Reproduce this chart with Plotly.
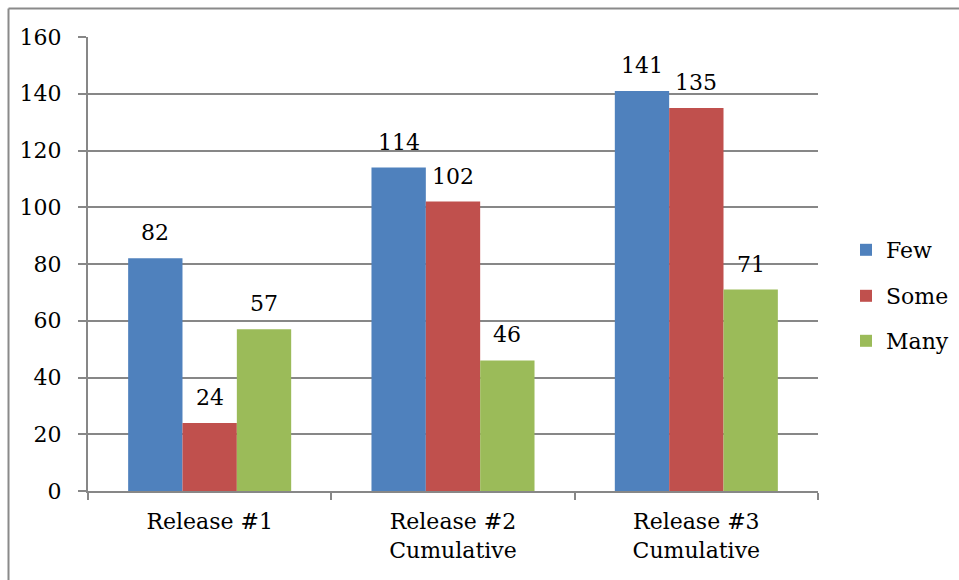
import plotly.graph_objects as go

# Category labels and counts per series
categories = ["Release #1", "Release #2<br>Cumulative", "Release #3<br>Cumulative"]
few = [82, 114, 141]
some = [24, 102, 135]
many = [57, 46, 71]

series = [("Few", few, "#4F81BD"), ("Some", some, "#C0504D"), ("Many", many, "#9BBB59")]

FONT = "DejaVu Serif"
FS = 22
GRID = "#878787"

W, H = 959, 580
ML, MR, MT, MB = 88, 141, 37, 89
PW, PH = W - ML - MR, H - MT - MB

fig = go.Figure()
legend_names = ["legend", "legend2", "legend3"]
legend_y_px = [250, 296, 341]
for i, (name, vals, color) in enumerate(series):
    fig.add_trace(go.Bar(
        x=categories, y=vals, name=name, marker=dict(color=color, line=dict(width=0)),
        legend=legend_names[i],
    ))

# value labels above each bar
n = len(series)
group_frac = 1 - 0.33
for i, (name, vals, color) in enumerate(series):
    for j, v in enumerate(vals):
        offset = (-group_frac / 2 + group_frac / n * (i + 0.5))
        fig.add_annotation(
            x=j + offset, y=v, xref="x", yref="y", text=str(v), showarrow=False,
            yanchor="bottom", yshift=11, font=dict(family=FONT, size=FS, color="black"),
        )

# Outer frame (left and top edges)
fx = (8.5 - ML) / PW
fy = (H - MB - 8.5) / PH
fig.add_shape(type="line", xref="paper", yref="paper", x0=fx, x1=fx, y0=fy, y1=-0.3,
              line=dict(color="#8A8A8A", width=2))
fig.add_shape(type="line", xref="paper", yref="paper", x0=fx, x1=1.3, y0=fy, y1=fy,
              line=dict(color="#8A8A8A", width=2))

layout_legends = {}
for i, ln in enumerate(legend_names):
    layout_legends[ln] = dict(
        x=(846 - ML) / PW, y=(H - MB - legend_y_px[i]) / PH, xanchor="left", yanchor="middle",
        font=dict(family=FONT, size=FS, color="black"), bgcolor="rgba(0,0,0,0)",
        itemclick=False, itemdoubleclick=False,
    )

fig.update_layout(
    width=W, height=H,
    margin=dict(l=ML, r=MR, t=MT, b=MB, autoexpand=False),
    paper_bgcolor="white", plot_bgcolor="white",
    barmode="group", bargap=0.33, bargroupgap=0,
    font=dict(family=FONT, size=FS, color="black"),
    showlegend=True,
    **layout_legends,
)

fig.update_xaxes(
    showgrid=False, showline=True, linecolor=GRID, linewidth=2,
    ticks="outside", tickson="boundaries", ticklen=7, tickwidth=2, tickcolor=GRID,
    tickfont=dict(family=FONT, size=FS, color="black"), ticklabelstandoff=10,
)
fig.update_yaxes(
    range=[0, 160], dtick=20, showgrid=True, gridcolor=GRID, gridwidth=2,
    showline=True, linecolor=GRID, linewidth=2, zeroline=False,
    ticks="outside", ticklen=8, tickwidth=2, tickcolor=GRID,
    tickfont=dict(family=FONT, size=FS, color="black"), ticklabelstandoff=12,
)

fig.write_html("out.html")
